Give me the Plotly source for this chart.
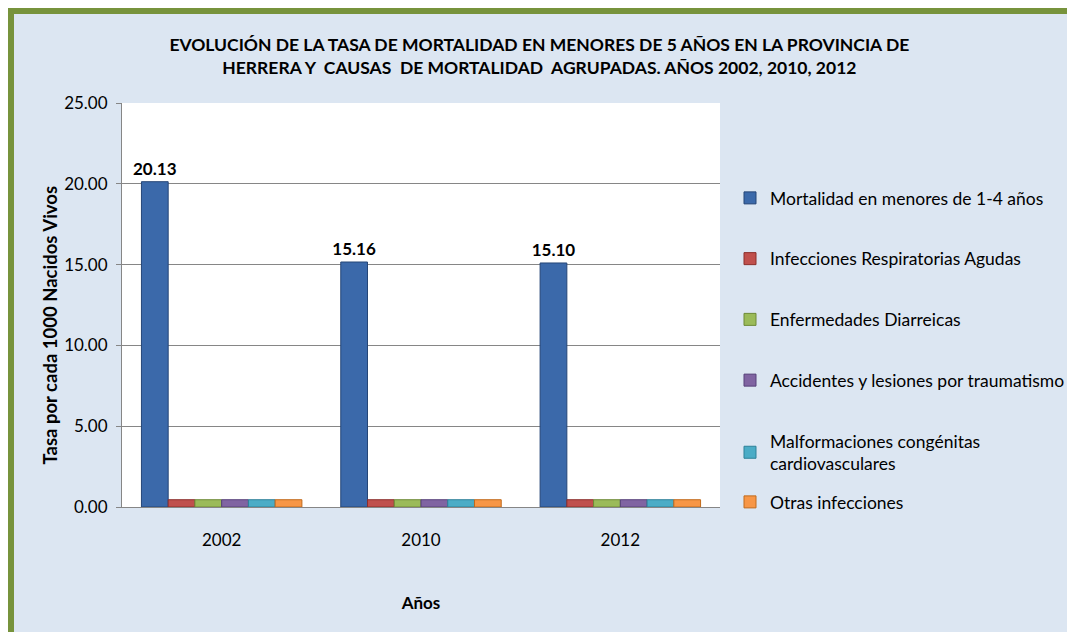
import plotly.graph_objects as go

years = ["2002", "2010", "2012"]
series_names = [
    "Mortalidad en menores de 1-4 años",
    "Infecciones Respiratorias Agudas",
    "Enfermedades Diarreicas",
    "Accidentes y lesiones por traumatismo",
    "Malformaciones congénitas<br>cardiovasculares",
    "Otras infecciones",
]
mortalidad_1_4 = [20.13, 15.16, 15.10]
ira = [0.45, 0.45, 0.45]
eda = [0.45, 0.45, 0.45]
accidentes = [0.45, 0.45, 0.45]
malformaciones = [0.45, 0.45, 0.45]
otras = [0.45, 0.45, 0.45]
series_values = [mortalidad_1_4, ira, eda, accidentes, malformaciones, otras]

fill_colors = ["#3B69AA", "#C0504D", "#9BBB59", "#8064A2", "#4BACC6", "#F79646"]
edge_colors = ["#254677", "#8C2E2B", "#6E8A36", "#56417A", "#2E8199", "#C06A1C"]
legend_of = ["legend", "legend", "legend", "legend", "legend", "legend2"]

FONT = "Lato"

fig = go.Figure()
for i, (name, vals) in enumerate(zip(series_names, series_values)):
    kw = {}
    if i == 0:
        kw = dict(
            text=[f"{v:.2f}" for v in vals],
            textposition="outside",
            constraintext="none",
            textfont=dict(family=FONT, size=17, color="#000000", weight="bold"),
            cliponaxis=False,
        )
    fig.add_trace(go.Bar(
        x=years, y=vals, name=name,
        marker=dict(color=fill_colors[i], line=dict(color=edge_colors[i], width=1)),
        legendgroup=f"g{i}", legend=legend_of[i],
        hoverinfo="x+y+name",
        **kw,
    ))

# figure is 1067x624 (page body adds an 8px offset); plot area 114..712 x 95..499
fig.update_layout(
    width=1067, height=624,
    margin=dict(l=114, r=355, t=95, b=125, autoexpand=False),
    paper_bgcolor="#DCE6F2",
    plot_bgcolor="#FFFFFF",
    barmode="group", bargap=0.195, bargroupgap=0,
    font=dict(family=FONT, size=17, color="#000000"),
    title=dict(
        text="EVOLUCIÓN DE LA TASA DE MORTALIDAD EN MENORES DE 5 AÑOS EN LA PROVINCIA DE<br>HERRERA Y  CAUSAS  DE MORTALIDAD  AGRUPADAS. AÑOS 2002, 2010, 2012",
        xref="container", x=0.498, xanchor="center",
        yref="container", y=0.931, yanchor="middle",
        font=dict(family=FONT, size=17.5, color="#000000", weight="bold"),
    ),
    xaxis=dict(
        showline=True, linecolor="#868686", linewidth=1,
        ticks="", tickfont=dict(size=17), ticklabelstandoff=18,
        title=dict(text="Años", font=dict(size=17, weight="bold"), standoff=47),
    ),
    yaxis=dict(
        range=[0, 25], dtick=5, tickformat=".2f",
        showgrid=True, gridcolor="#868686", gridwidth=1,
        showline=True, linecolor="#868686", linewidth=1,
        ticks="outside", ticklen=5, tickcolor="#868686",
        tickfont=dict(size=17), ticklabelstandoff=5,
        zeroline=False,
    ),
    legend=dict(
        x=(722 - 114) / 598, xanchor="left", y=(499 - 172) / 404, yanchor="top",
        font=dict(size=17.5), tracegroupgap=35,
        bgcolor="rgba(0,0,0,0)",
    ),
    legend2=dict(
        x=(722 - 114) / 598, xanchor="left", y=(499 - 476) / 404, yanchor="top",
        font=dict(size=17.5),
        bgcolor="rgba(0,0,0,0)",
    ),
    showlegend=True,
)

# y-axis title (placed as in the reference, slightly below the plot centre)
fig.add_annotation(text="<b>Tasa por cada 1000 Nacidos Vivos</b>", textangle=-90,
                   xref="paper", yref="paper",
                   x=(41 - 114) / 598, xanchor="center",
                   y=(499 - 317.5) / 404, yanchor="middle",
                   showarrow=False, font=dict(family=FONT, size=18.5, color="#000000"))

# green chart frame
fig.add_shape(type="rect", xref="paper", yref="paper",
              x0=(3 - 114) / 598, x1=(1090 - 114) / 598,
              y0=(499 - 650) / 404, y1=(499 - 3) / 404,
              line=dict(color="#77933C", width=6), fillcolor="rgba(0,0,0,0)", layer="above")

fig.add_annotation(text="Gráfica N° 1", xref="paper", yref="paper",
                   x=(-8 - 114) / 598, xanchor="left",
                   y=(499 + 3) / 404, yanchor="bottom",
                   showarrow=False, font=dict(family="Liberation Sans", size=20, color="#000000"))

fig.write_html("out.html")
